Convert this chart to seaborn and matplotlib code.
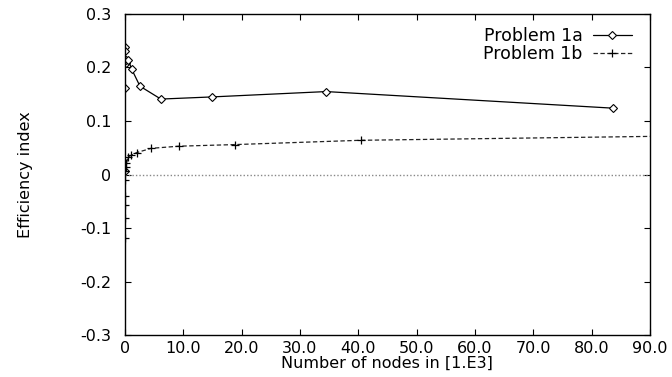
import matplotlib
matplotlib.use('Agg')
import matplotlib.pyplot as plt  # noqa: E402
import pandas as pd  # noqa: E402
import seaborn as sns  # noqa: E402

# Problem 1a: efficiency index vs number of nodes (thousands)
NODES_1A = [0.002, 0.01, 0.03, 0.06, 0.1, 0.2, 0.57, 1.14, 2.57, 6.15, 14.9, 34.5, 83.7]
EFF_1A = [0.006, 0.161, 0.239, 0.230, 0.208, 0.214, 0.214, 0.197, 0.165, 0.141, 0.145, 0.155, 0.124]

# Problem 1b
NODES_1B = [0.003, 0.008, 0.015, 0.03, 0.05, 0.08, 0.15, 0.25, 0.57, 1.06, 2.0, 4.5,
            9.3, 18.9, 40.4, 95.0]
EFF_1B = [-0.119, -0.082, -0.057, -0.041, -0.010, 0.007, 0.015, 0.021, 0.033, 0.036,
          0.041, 0.049, 0.053, 0.056, 0.064, 0.072]

XTICKS = [0, 10, 20, 30, 40, 50, 60, 70, 80, 90]
XTICKLABELS = ['0', '10.0', '20.0', '30.0', '40.0', '50.0', '60.0', '70.0', '80.0', '90.0']
YTICKS = [-0.3, -0.2, -0.1, 0, 0.1, 0.2, 0.3]
YTICKLABELS = ['-0.3', '-0.2', '-0.1', '0', '0.1', '0.2', '0.3']

df_a = pd.DataFrame({'nodes': NODES_1A, 'eff': EFF_1A})
df_b = pd.DataFrame({'nodes': NODES_1B, 'eff': EFF_1B})

sns.set_style('ticks')
plt.rcParams.update({
    'font.family': ['DejaVu Sans'],
    'font.size': 11.5,
    'text.color': 'black',
    'axes.labelcolor': 'black',
    'axes.edgecolor': 'black',
    'xtick.color': 'black',
    'ytick.color': 'black',
})

fig = plt.figure(figsize=(6.72, 3.77), dpi=100)
ax = fig.add_axes([0.186, 0.111, 0.781, 0.852])

ax.axhline(0, color='#888888', lw=1.0, ls=(0, (1, 1.5)), zorder=1)

A_STYLE = dict(color='black', lw=0.9, marker='D', markersize=4,
               markerfacecolor='white', markeredgecolor='black', markeredgewidth=0.8)
B_STYLE = dict(color='#222222', lw=0.9, marker='+', markersize=5.5,
               markeredgecolor='black', markeredgewidth=0.9)

sns.lineplot(data=df_a, x='nodes', y='eff', ax=ax, estimator=None, sort=False, **A_STYLE)
sns.lineplot(data=df_b, x='nodes', y='eff', ax=ax, estimator=None, sort=False, **B_STYLE)
ax.lines[-1].set_linestyle((0, (3.5, 2)))

ax.set_xlim(0, 90)
ax.set_ylim(-0.3, 0.3)
ax.set_xticks(XTICKS)
ax.set_xticklabels(XTICKLABELS)
ax.set_yticks(YTICKS)
ax.set_yticklabels(YTICKLABELS)
ax.tick_params(axis='both', direction='in', length=4, width=0.8, top=True, right=True)
ax.tick_params(axis='x', pad=4)
ax.tick_params(axis='y', pad=10)
for s in ax.spines.values():
    s.set_linewidth(1.0)
    s.set_visible(True)

ax.set_xlabel('Number of nodes in [1.E3]', labelpad=0)
ax.set_ylabel('Efficiency index')
ax.yaxis.set_label_coords(-0.175, 0.5)

h_a = plt.Line2D([0], [0], **A_STYLE)
h_b = plt.Line2D([0], [0], ls=(0, (3.5, 2)), **B_STYLE)
ax.legend([h_a, h_b], ['Problem 1a', 'Problem 1b'], loc='upper right',
          bbox_to_anchor=(0.966, 0.96), markerfirst=False, frameon=False,
          fontsize=12.5, handlelength=2.25, handletextpad=0.6, labelspacing=0.0,
          borderpad=0, borderaxespad=0)

fig.savefig('out.png', dpi=100)
